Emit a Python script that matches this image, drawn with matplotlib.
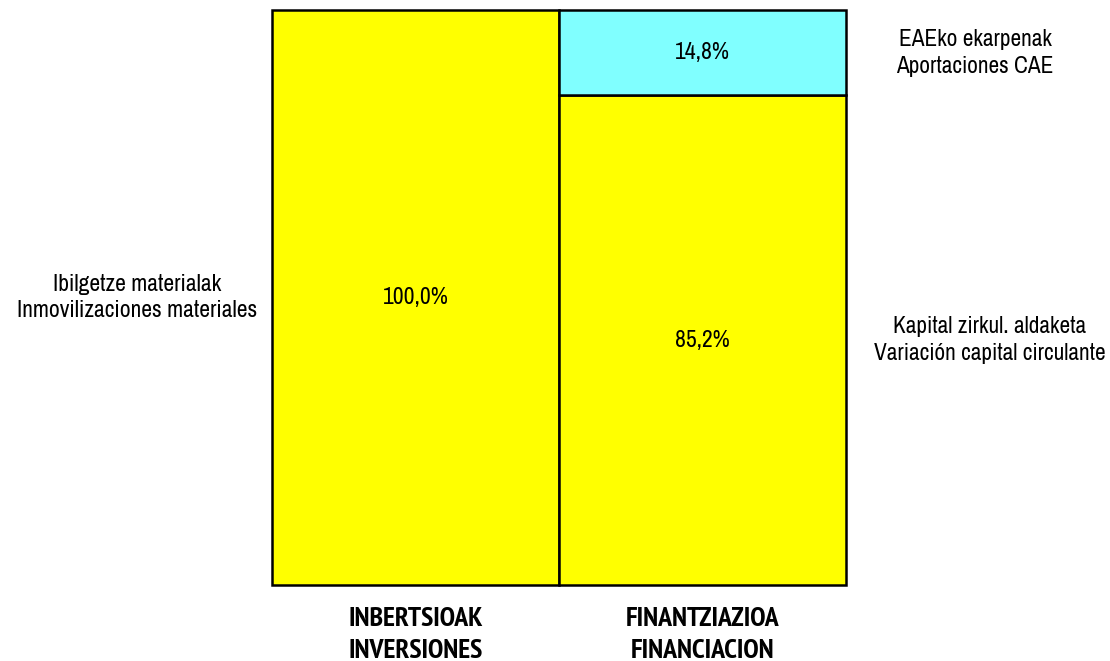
import matplotlib.pyplot as plt
from matplotlib import font_manager

# Data
categories = ["INBERTSIOAK\nINVERSIONES", "FINANTZIAZIOA\nFINANCIACION"]
inv_values = [100.0]
fin_values = [85.2, 14.8]
inv_labels = ["Ibilgetze materialak\nInmovilizaciones materiales"]
fin_labels = ["Kapital zirkul. aldaketa\nVariación capital circulante",
              "EAEko ekarpenak\nAportaciones CAE"]

YELLOW = "#FFFF00"
CYAN = "#80FFFF"

# narrow Arial-like faces, if installed
fonts = font_manager.fontManager.ttflist
names = {f.name for f in fonts}
wanted = ["Liberation Sans Narrow", "Arial Narrow", "Archivo Narrow",
          "PT Sans Narrow", "Roboto Condensed", "Liberation Sans", "DejaVu Sans"]
family = [f for f in wanted if f in names] or ["DejaVu Sans"]
plt.rcParams["font.family"] = family[:1] + ["DejaVu Sans"]


def has_bold(name):
    for f in fonts:
        if f.name == name:
            w = f.weight
            if isinstance(w, str):
                if "bold" in w.lower() or w.lower() in ("heavy", "black"):
                    return True
            elif w >= 600:
                return True
    return False


bold_wanted = ["Liberation Sans Narrow", "Arial Narrow", "PT Sans Narrow",
               "Archivo Narrow", "Roboto Condensed", "Liberation Sans"]
bold_family = [f for f in bold_wanted if f in names and has_bold(f)] or ["DejaVu Sans"]


def fmt(v):
    return f"{v:.1f}%".replace(".", ",")


fig = plt.figure(figsize=(11.1, 6.61), dpi=100)
ax = fig.add_axes([272 / 1110, 1 - 585 / 661, (846 - 272) / 1110, (585 - 10) / 661])

# investments column
ax.bar(0, inv_values[0], width=1, color=YELLOW, edgecolor="black",
       linewidth=1.8, clip_on=False)
ax.text(0, inv_values[0] / 2, fmt(inv_values[0]), ha="center", va="center", fontsize=17)

# financing column, stacked
bottom = 0
fin_colors = [YELLOW, CYAN]
for val, col in zip(fin_values, fin_colors):
    ax.bar(1, val, bottom=bottom, width=1, color=col, edgecolor="black",
           linewidth=1.8, clip_on=False)
    ax.text(1, bottom + val / 2, fmt(val), ha="center", va="center", fontsize=17)
    bottom += val

ax.set_xlim(-0.5, 1.5)
ax.set_ylim(0, 100)
ax.axis("off")

# side labels
ax.text(-0.97, inv_values[0] / 2, inv_labels[0], ha="center", va="center",
        fontsize=17, linespacing=1.35)
bottom = 0
offsets = [2.0, 1.95]
for val, lab, x in zip(fin_values, fin_labels, offsets):
    ax.text(x, bottom + val / 2, lab, ha="center", va="center",
            fontsize=16.8, linespacing=1.35)
    bottom += val

# category labels below the columns (baseline of last line near the bottom edge)
for i, cat in enumerate(categories):
    ax.text(i, -12.7, cat, ha="center", va="baseline", fontsize=20,
            fontweight="bold", family=bold_family[:1] + ["DejaVu Sans"],
            linespacing=1.4)

fig.savefig("out.png", dpi=100)
